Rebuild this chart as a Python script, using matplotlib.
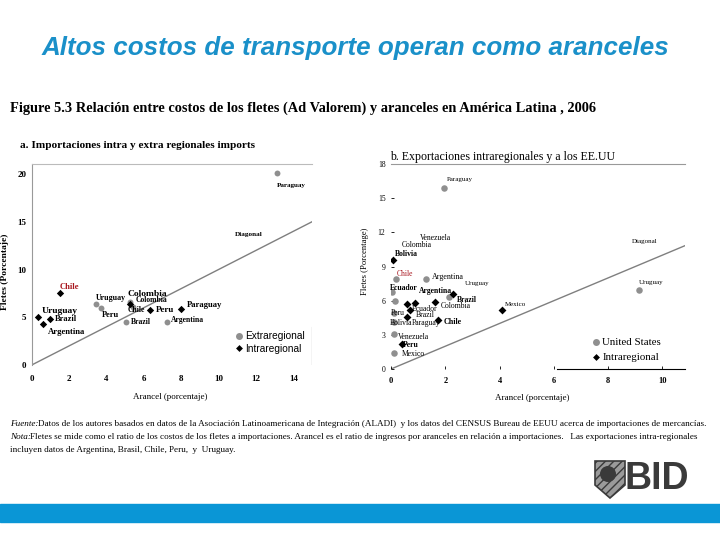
import matplotlib
matplotlib.use("Agg")
import matplotlib.pyplot as plt
from matplotlib.lines import Line2D
from matplotlib.patches import Rectangle, Polygon, Ellipse

# ---------------- data ----------------
# Panel a: imports
a_extra_names = ["Paraguay", "Uruguay", "Peru", "Colombia", "Chile", "Brazil", "Argentina"]
a_extra_x = [13.14, 3.46, 3.69, 5.24, 5.40, 5.05, 7.25]
a_extra_y = [20.07, 6.35, 5.93, 6.56, 6.05, 4.50, 4.55]

a_intra_names = ["Chile", "Uruguay", "Brazil", "Argentina", "Colombia", "Peru", "Paraguay"]
a_intra_x = [1.51, 0.36, 0.98, 0.59, 5.28, 6.34, 7.99]
a_intra_y = [7.50, 5.00, 4.78, 4.30, 6.35, 5.76, 5.90]

# Panel b: exports
b_us_names = ["Paraguay", "Uruguay", "Chile", "Argentina", "Ecuador", "Colombia",
              "Brazil", "Peru", "Bolivia", "Venezuela", "Mexico"]
b_us_x = [1.97, 9.13, 0.18, 1.29, 0.05, 0.15, 2.15, 0.12, 0.12, 0.12, 0.12]
b_us_y = [15.93, 6.90, 7.87, 7.90, 6.80, 6.00, 6.32, 4.95, 4.10, 3.06, 1.37]

b_intra_names = ["Bolivia", "Argentina", "Colombia", "Ecuador", "Brazil", "Chile",
                 "Peru", "Mexico", "Uruguay", "Paraguay"]
b_intra_x = [0.09, 2.30, 1.62, 0.70, 0.58, 1.72, 0.39, 4.08, 0.88, 0.58]
b_intra_y = [9.53, 6.56, 5.88, 5.16, 4.57, 4.28, 2.19, 5.16, 5.83, 5.68]

a_xticks = [0, 2, 4, 6, 8, 10, 12, 14]
a_yticks = [0, 5, 10, 15, 20]
b_xticks = [0, 2, 4, 6, 8, 10]
b_yticks = [0, 3, 6, 9, 12, 15, 18]

# ---------------- label layout (offsets in points, size, weight, colour) ----------------
RED = "#A8161E"
a_extra_lab = [((0, -8.4), 5.0, "bold", "k"), ((-0.5, 4.3), 5.7, "bold", "k"),
               ((0.5, -4.8), 6.0, "bold", "k"), ((-1.7, 5.8), 6.8, "bold", "k"),
               ((-3.6, -2.2), 5.5, "bold", "k"), ((3.6, 0), 5.5, "bold", "k"),
               ((2.9, 1.2), 5.5, "bold", "k")]
a_intra_lab = [((0, 4.8), 6.2, "bold", RED), ((2.4, 4.5), 6.8, "bold", "k"),
               ((3.6, 0), 6.0, "bold", "k"), ((4.1, -6.0), 6.2, "bold", "k"),
               ((3.6, 2.9), 5.5, "bold", "k"), ((3.8, 0), 6.5, "bold", "k"),
               ((4.3, 2.7), 6.2, "bold", "k")]
b_us_lab = [((1.7, 6.0), 5.0, "normal", "k"), ((0, 6.0), 5.0, "normal", "k"),
            ((0.5, 3.6), 5.5, "normal", RED), ((4.6, 1.7), 5.8, "normal", "k"),
            ((-1.7, 2.4), 5.5, "bold", "k"), None,
            ((5.3, -1.9), 5.5, "bold", "k"), ((-2.4, -0.5), 5.5, "normal", "k"),
            ((-3.1, -0.7), 5.5, "normal", "k"), ((2.9, -1.7), 5.5, "normal", "k"),
            ((5.3, -0.5), 5.5, "normal", "k")]
b_intra_lab = [((1.2, 4.3), 5.5, "bold", "k"), ((-1.2, 2.4), 5.5, "bold", "k"),
               ((4.3, -2.6), 5.5, "normal", "k"), ((1.2, 1.2), 5.5, "normal", "k"),
               ((6.7, 1.4), 5.5, "normal", "k"), ((4.1, -1.2), 5.8, "bold", "k"),
               ((1.2, -0.7), 5.5, "bold", "k"), ((2.4, 4.3), 5.0, "normal", "k"),
               ((36, 13.9), 5.0, "normal", "k"), ((3.6, -13.7), 5.5, "normal", "k")]
b_ha_right = {"Argentina_intra"}

SERIF = ["Liberation Serif", "DejaVu Serif"]
GRAY = "#8f8f8f"
LINEG = "#7f7f7f"

fig = plt.figure(figsize=(7.2, 5.4), dpi=100)
fig.patch.set_facecolor("white")

# ---------------- titles ----------------
fig.text(355 / 720, 1 - 48 / 540, "Altos costos de transporte operan como aranceles",
         ha="center", va="center", fontsize=18.7, fontweight="bold", style="italic",
         color="#1A90C9", family=["Liberation Sans", "DejaVu Sans"])
fig.text(10 / 720, 1 - 108 / 540,
         "Figure 5.3 Relación entre costos de los fletes (Ad Valorem) y aranceles en América Latina , 2006",
         ha="left", va="center", fontsize=10.4, fontweight="bold", family=SERIF)
fig.text(20 / 720, 1 - 145 / 540, "a. Importaciones intra y extra regionales imports",
         ha="left", va="center", fontsize=8.1, fontweight="bold", family=SERIF)
fig.text(390 / 720, 1 - 157 / 540, "b. Exportaciones intraregionales y a los EE.UU",
         ha="left", va="center", fontsize=8.6, family=SERIF)

# ---------------- panel a ----------------
ax1 = fig.add_axes([31.7 / 720, 1 - 365 / 540, (312 - 31.7) / 720, 201 / 540])
ax1.set_xlim(0, 15)
ax1.set_ylim(0, 21.05)
ax1.plot([0, 15], [0, 15], color=LINEG, lw=1.0, zorder=1)
ax1.scatter(a_extra_x, a_extra_y, s=18, color=GRAY, marker="o", zorder=3, linewidths=0)
ax1.scatter(a_intra_x, a_intra_y, s=14, color="k", marker="D", zorder=4, linewidths=0)
for n, x, y, lab in zip(a_extra_names, a_extra_x, a_extra_y, a_extra_lab):
    (dx, dy), fs, fw, c = lab
    ax1.annotate(n, (x, y), xytext=(dx, dy), textcoords="offset points", ha="left",
                 va="center", fontsize=fs, fontweight=fw, color=c, family=SERIF, zorder=5)
for n, x, y, lab in zip(a_intra_names, a_intra_x, a_intra_y, a_intra_lab):
    (dx, dy), fs, fw, c = lab
    ax1.annotate(n, (x, y), xytext=(dx, dy), textcoords="offset points", ha="left",
                 va="center", fontsize=fs, fontweight=fw, color=c, family=SERIF, zorder=5)
ax1.text(10.87, 13.7, "Diagonal", fontsize=5.2, fontweight="bold", family=SERIF,
         ha="left", va="center")
ax1.set_xticks(a_xticks)
ax1.set_yticks(a_yticks)
ax1.tick_params(length=0, labelsize=6.5)
ax1.tick_params(axis="x", pad=7)
ax1.tick_params(axis="y", pad=4)
for lbl in ax1.get_xticklabels() + ax1.get_yticklabels():
    lbl.set_fontweight("bold")
    lbl.set_family(SERIF)
for s in ["bottom", "right"]:
    ax1.spines[s].set_visible(False)
ax1.spines["left"].set_color("#999999")
ax1.spines["top"].set_color("#bbbbbb")
ax1.spines["left"].set_linewidth(0.8)
ax1.spines["top"].set_linewidth(0.8)
ax1.axvline(15, ymin=0, ymax=0.19, color="#444444", lw=0.8)
h1 = [Line2D([], [], marker="o", ls="", color=GRAY, markersize=5, markeredgewidth=0),
      Line2D([], [], marker="D", ls="", color="k", markersize=3.5, markeredgewidth=0)]
ax1.legend(h1, ["Extraregional", "Intraregional"], loc="lower right",
           bbox_to_anchor=(1.0, 0.02), frameon=False, handletextpad=0.1,
           labelspacing=0.25, handlelength=1.0, borderpad=0.2,
           prop={"family": ["Liberation Sans", "DejaVu Sans"], "size": 7.3})
fig.text(170 / 720, 1 - 397 / 540, "Arancel (porcentaje)", ha="center", va="center",
         fontsize=6.5, family=SERIF)
fig.text(5 / 720, 1 - 272 / 540, "Fletes (Porcentaje)", ha="center", va="center",
         rotation=90, fontsize=6.8, fontweight="bold", family=SERIF)

# ---------------- panel b ----------------
ax2 = fig.add_axes([391 / 720, 1 - 369 / 540, 294 / 720, 205 / 540])
ax2.set_xlim(0, 10.83)
ax2.set_ylim(0, 18)
ax2.plot([0, 10.83], [0, 10.83], color=LINEG, lw=1.0, zorder=1)
ax2.scatter(b_us_x, b_us_y, s=22, color=GRAY, marker="o", zorder=3, linewidths=0)
ax2.scatter(b_intra_x, b_intra_y, s=16, color="k", marker="D", zorder=4, linewidths=0)
for n, x, y, lab in zip(b_us_names, b_us_x, b_us_y, b_us_lab):
    if lab is None:
        continue
    (dx, dy), fs, fw, c = lab
    ax2.annotate(n, (x, y), xytext=(dx, dy), textcoords="offset points", ha="left",
                 va="center", fontsize=fs, fontweight=fw, color=c, family=SERIF, zorder=5)
for n, x, y, lab in zip(b_intra_names, b_intra_x, b_intra_y, b_intra_lab):
    (dx, dy), fs, fw, c = lab
    ha = "right" if (n + "_intra") in b_ha_right else "left"
    ax2.annotate(n, (x, y), xytext=(dx, dy), textcoords="offset points", ha=ha,
                 va="center", fontsize=fs, fontweight=fw, color=c, family=SERIF, zorder=5)
ax2.text(1.07, 11.5, "Venezuela", fontsize=5.5, family=SERIF, ha="left", va="center")
ax2.text(0.39, 10.87, "Colombia", fontsize=5.5, family=SERIF, ha="left", va="center")
ax2.text(8.87, 11.16, "Diagonal", fontsize=5.0, family=SERIF, ha="left", va="center")
ax2.set_xticks(b_xticks)
ax2.set_yticks(b_yticks)
ax2.tick_params(axis="y", direction="in", length=2.5, width=0.6, pad=4, labelsize=5.5)
ax2.tick_params(axis="x", direction="in", length=2, width=0.6, pad=6, labelsize=6)
for lbl in ax2.get_xticklabels():
    lbl.set_fontweight("bold")
    lbl.set_family(SERIF)
for lbl in ax2.get_yticklabels():
    lbl.set_family(SERIF)
for s in ["left", "right"]:
    ax2.spines[s].set_visible(False)
ax2.spines["top"].set_color("#999999")
ax2.spines["top"].set_linewidth(0.8)
ax2.spines["bottom"].set_bounds(6.1, 10.83)
ax2.spines["bottom"].set_linewidth(0.8)
h2 = [Line2D([], [], marker="o", ls="", color=GRAY, markersize=5, markeredgewidth=0),
      Line2D([], [], marker="D", ls="", color="k", markersize=3.5, markeredgewidth=0)]
ax2.legend(h2, ["United States", "Intraregional"], loc="lower right",
           bbox_to_anchor=(0.945, -0.005), frameon=False, handletextpad=0.1,
           labelspacing=0.5, handlelength=1.0, borderpad=0.2,
           prop={"family": SERIF, "size": 7.8})
fig.text(532 / 720, 1 - 398 / 540, "Arancel (porcentaje)", ha="center", va="center",
         fontsize=6.5, family=SERIF)
fig.text(365 / 720, 1 - 261 / 540, "Fletes (Porcentage)", ha="center", va="center",
         rotation=90, fontsize=6.2, family=SERIF)

# ---------------- footnote ----------------
FOOT = ["Datos de los autores basados en datos de la Asociación Latinoamericana de Integración (ALADI)  y los datos del CENSUS Bureau de EEUU acerca de importaciones de mercancías.",
        "Fletes se mide como el ratio de los costos de los fletes a importaciones. Arancel es el ratio de ingresos por aranceles en relación a importaciones.   Las exportaciones intra-regionales",
        "incluyen datos de Argentina, Brasil, Chile, Peru,  y  Uruguay."]
FS = 6.55
fig.text(10 / 720, 1 - 424 / 540, "Fuente:", style="italic", fontsize=FS, family=SERIF,
         ha="left", va="center")
fig.text(38 / 720, 1 - 424 / 540, FOOT[0], fontsize=FS, family=SERIF, ha="left", va="center")
fig.text(10 / 720, 1 - 437 / 540, "Nota:", style="italic", fontsize=FS, family=SERIF,
         ha="left", va="center")
fig.text(30 / 720, 1 - 437 / 540, FOOT[1], fontsize=FS, family=SERIF, ha="left", va="center")
fig.text(10 / 720, 1 - 450 / 540, FOOT[2], fontsize=FS, family=SERIF, ha="left", va="center")

# ---------------- logo & bar ----------------
fig.patches.append(Rectangle((0, 1 - 521.5 / 540), 1, 17.5 / 540, transform=fig.transFigure,
                             color="#0A96D6", zorder=0))
shield = Polygon([(595 / 720, 1 - 461 / 540), (625 / 720, 1 - 461 / 540),
                  (625 / 720, 1 - 485 / 540), (610 / 720, 1 - 498 / 540),
                  (595 / 720, 1 - 485 / 540)], closed=True, transform=fig.transFigure,
                 facecolor="#9a9a9a", edgecolor="#3a3a3a", lw=1.2, hatch="////")
fig.patches.append(shield)
fig.patches.append(Ellipse((608 / 720, 1 - 474 / 540), 16 / 720, 16 / 540,
                           transform=fig.transFigure, facecolor="#3a3a3a", edgecolor="none"))
fig.text(657 / 720, 1 - 479 / 540, "BID", ha="center", va="center", fontsize=27,
         fontweight="bold", color="#3a3a3a",
         family=["Liberation Sans Narrow", "Liberation Sans", "DejaVu Sans"])

fig.savefig("out.png", dpi=100, facecolor="white")
